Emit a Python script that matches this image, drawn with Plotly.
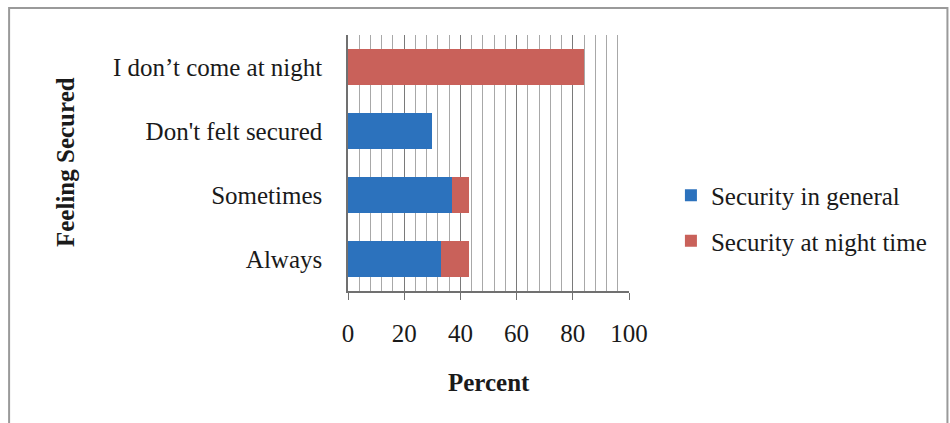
import plotly.graph_objects as go

categories = ["Always", "Sometimes", "Don't felt secured", "I don\u2019t come at night"]
security_general = [33, 37, 30, 0]
security_night = [10, 6, 0, 84]
series_names = ["Security in general", "Security at night time"]
x_ticks = [0, 20, 40, 60, 80, 100]

FONT = "Liberation Serif, Times New Roman, serif"
L, R, T, B = 347.5, 321, 35, 132
W, H = 950, 423
pw, ph = W - L - R, H - T - B

def px(x):
    return (x - L) / pw

def py(y):
    return (H - B - y) / ph

fig = go.Figure()
fig.add_trace(go.Bar(y=categories, x=security_general, orientation="h",
                     name=series_names[0], legendgroup="g1",
                     marker=dict(color="#2c72bd", line=dict(width=0))))
fig.add_trace(go.Bar(y=categories, x=security_night, orientation="h",
                     name=series_names[1], legendgroup="g2",
                     marker=dict(color="#c9615a", line=dict(width=0))))

fig.update_layout(
    width=W, height=H,
    margin=dict(l=L, r=R, t=T, b=B, autoexpand=False),
    barmode="stack", bargap=0.45,
    paper_bgcolor="white", plot_bgcolor="white",
    font=dict(family=FONT, size=25, color="#1a1a1a"),
    legend=dict(x=px(671), y=py(218), xanchor="left", yanchor="middle",
                traceorder="grouped", tracegroupgap=10,
                font=dict(family=FONT, size=25, color="#1a1a1a"),
                itemwidth=30, bgcolor="rgba(0,0,0,0)"),
    xaxis=dict(range=[0, 100], tickvals=x_ticks, ticktext=[str(v) for v in x_ticks],
               showgrid=True, gridcolor="#7a7a7a", gridwidth=1,
               minor=dict(dtick=4, showgrid=True, gridcolor="#a8a8a8", gridwidth=1),
               showline=True, linecolor="#707070", linewidth=1.5,
               ticks="outside", ticklen=7, tickcolor="#707070",
               ticklabelstandoff=12, zeroline=False, fixedrange=True),
    yaxis=dict(showline=True, linecolor="#707070", linewidth=1.5, ticks="",
               ticklabelstandoff=19, showgrid=False, fixedrange=True),
    annotations=[
        dict(text="<b>Percent</b>", x=0.5, y=py(382), xref="paper", yref="paper",
             xanchor="center", yanchor="middle",
             showarrow=False, font=dict(family=FONT, size=25, color="#1a1a1a")),
        dict(text="<b>Feeling Secured</b>", x=px(64), y=py(162), xref="paper", yref="paper",
             xanchor="center", yanchor="middle",
             showarrow=False, textangle=-90, font=dict(family=FONT, size=25, color="#1a1a1a")),
    ],
    shapes=[dict(type="rect", xref="paper", yref="paper",
                 x0=px(8), x1=px(948), y0=py(428), y1=py(8),
                 line=dict(color="#9a9a9a", width=2), fillcolor="rgba(0,0,0,0)")],
)

fig.write_html("out.html", config={"displayModeBar": False},
               post_script="document.body.style.margin='0';")
